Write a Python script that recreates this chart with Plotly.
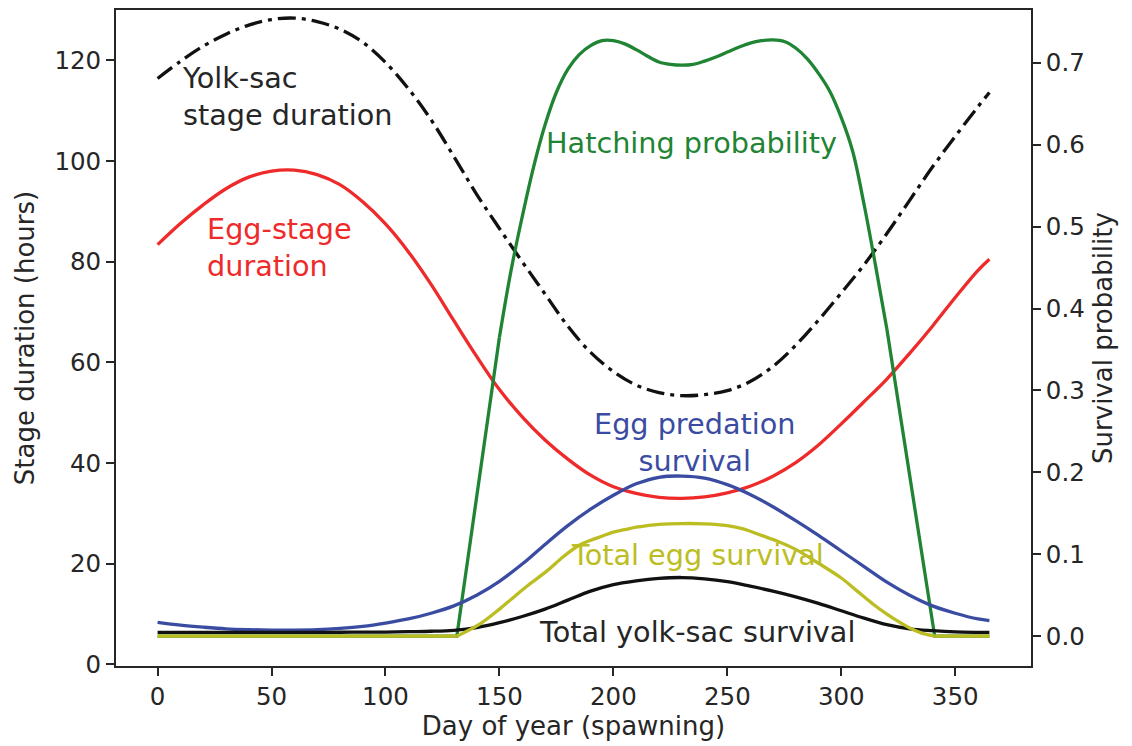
import plotly.graph_objects as go

# ---------------- data ----------------
grid_days = [0, 10, 20, 30, 40, 50, 60, 70, 80, 90, 100, 110, 120, 130, 140, 150, 160, 170,
             180, 190, 200, 210, 220, 230, 240, 250, 260, 270, 280, 290, 300, 310, 320, 330,
             340, 350, 360, 365]

# Yolk-sac stage duration (hours, left axis)
yolk_dur = [116.4, 119.8, 122.8, 125.2, 127.0, 128.1, 128.4, 127.7, 126.2, 123.6, 119.6, 114.4,
            108.2, 100.9, 93.4, 86.6, 80.0, 73.6, 67.2, 62.0, 58.2, 55.5, 54.0, 53.4, 53.6, 54.4,
            56.2, 59.2, 63.4, 68.4, 73.8, 79.4, 85.6, 92.2, 98.8, 104.9, 110.8, 113.6]

# Egg-stage duration (hours, left axis)
egg_dur = [83.4, 87.6, 91.3, 94.5, 96.8, 98.0, 98.2, 97.3, 95.3, 91.9, 87.5, 82.0, 75.5, 68.3,
           61.2, 54.6, 49.2, 44.6, 40.8, 37.6, 35.3, 34.0, 33.2, 33.0, 33.3, 34.1, 35.4, 37.4,
           40.1, 43.6, 47.8, 52.2, 56.7, 61.8, 67.2, 72.9, 78.3, 80.5]

# Egg predation survival (right axis)
pred_p = [0.0168, 0.0135, 0.011, 0.009, 0.008, 0.0075, 0.0075, 0.008, 0.0095, 0.012, 0.016,
          0.021, 0.028, 0.037, 0.050, 0.067, 0.088, 0.112, 0.135, 0.155, 0.172, 0.186, 0.194,
          0.1955, 0.193, 0.185, 0.173, 0.158, 0.141, 0.123, 0.104, 0.085, 0.066, 0.050, 0.037,
          0.028, 0.021, 0.019]

# Total yolk-sac survival (right axis)
ys_p = [0.0046, 0.0046, 0.0046, 0.0046, 0.0046, 0.0046, 0.0047, 0.0047, 0.0048, 0.0049, 0.0050,
        0.0055, 0.0060, 0.0072, 0.0105, 0.0165, 0.024, 0.033, 0.044, 0.055, 0.063, 0.0675,
        0.0705, 0.0716, 0.070, 0.0665, 0.061, 0.055, 0.048, 0.040, 0.031, 0.022, 0.014, 0.009,
        0.0067, 0.0052, 0.0047, 0.0046]

# Hatching probability (right axis)
hatch_days = [0, 131.3, 150, 155, 160, 165, 170, 175, 180, 185, 190, 195, 200, 205, 210, 215,
              220, 225, 230, 235, 240, 245, 250, 255, 260, 265, 270, 275, 280, 285, 290, 295,
              300, 305, 310, 315, 320, 341, 365]
hatch_p = [0.0, 0.0, 0.365, 0.445, 0.512, 0.573, 0.624, 0.664, 0.692, 0.710, 0.721, 0.727,
           0.727, 0.723, 0.716, 0.708, 0.701, 0.698, 0.697, 0.698, 0.702, 0.707, 0.713, 0.719,
           0.724, 0.727, 0.728, 0.726, 0.718, 0.705, 0.687, 0.665, 0.633, 0.592, 0.527, 0.453,
           0.375, 0.0, 0.0]

# Total egg survival (right axis)
egg_surv_days = [0, 131.3, 141.5, 150, 156, 163, 171, 178, 185, 190, 195, 200, 205, 210, 215,
                 220, 230, 240, 250, 257, 265, 272, 280, 290, 300, 307, 314, 320, 325, 330, 335,
                 341, 365]
egg_surv_p = [0.0, 0.0, 0.015, 0.033, 0.047, 0.063, 0.080, 0.097, 0.111, 0.117, 0.122, 0.127,
              0.130, 0.133, 0.135, 0.1365, 0.1375, 0.1372, 0.135, 0.131, 0.123, 0.116, 0.106,
              0.089, 0.071, 0.055, 0.039, 0.027, 0.018, 0.010, 0.004, 0.0, 0.0]

x_ticks = [0, 50, 100, 150, 200, 250, 300, 350]
left_ticks = [0, 20, 40, 60, 80, 100, 120]
right_ticks = [0.0, 0.1, 0.2, 0.3, 0.4, 0.5, 0.6, 0.7]
right_tick_labels = ["0.0", "0.1", "0.2", "0.3", "0.4", "0.5", "0.6", "0.7"]

# ---------------- styles ----------------
FONT = "DejaVu Sans"
INK = "#262626"
RED = "#ee2a2a"
GREEN = "#1f8433"
BLUE = "#3a4ca2"
OLIVE = "#bcbd22"
LW = 3.3

fig = go.Figure()


def add_line(xs, ys, color, axis, shape="spline", dash=None):
    fig.add_trace(go.Scatter(x=xs, y=ys, mode="lines", yaxis=axis, hoverinfo="skip",
                             line=dict(color=color, width=LW, dash=dash, shape=shape,
                                       smoothing=1.0 if shape == "spline" else None)))


add_line(grid_days, yolk_dur, "#111111", "y", dash="18px,6px,4px,6px")
add_line(grid_days, egg_dur, RED, "y")

# hatching: straight ramps at the ends, smooth top
i0 = hatch_days.index(150)
i1 = hatch_days.index(320)
add_line(hatch_days[:i0 + 1], hatch_p[:i0 + 1], GREEN, "y2", shape="linear")
add_line(hatch_days[i0:i1 + 1], hatch_p[i0:i1 + 1], GREEN, "y2")
add_line(hatch_days[i1:], hatch_p[i1:], GREEN, "y2", shape="linear")

add_line(grid_days, pred_p, BLUE, "y2")
add_line(grid_days, ys_p, "#111111", "y2")

# total egg survival: flat at zero outside the hatching window
j0 = egg_surv_days.index(131.3)
j1 = egg_surv_days.index(341)
add_line(egg_surv_days[:j0 + 1], egg_surv_p[:j0 + 1], OLIVE, "y2", shape="linear")
add_line(egg_surv_days[j0:j1 + 1], egg_surv_p[j0:j1 + 1], OLIVE, "y2")
add_line(egg_surv_days[j1:], egg_surv_p[j1:], OLIVE, "y2", shape="linear")

ann_font = dict(family=FONT, size=28.7)
annotations = [
    dict(x=9.8, y=112.9, text="Yolk-sac<br>stage duration", xanchor="left", align="left",
         font=dict(ann_font, color=INK)),
    dict(x=20.8, y=82.9, text="Egg-stage<br>duration", xanchor="left", align="left",
         font=dict(ann_font, color=RED)),
    dict(x=234.3, y=103.5, text="Hatching probability", xanchor="center",
         font=dict(ann_font, color=GREEN)),
    dict(x=235.8, y=44.0, text="Egg predation<br>survival", xanchor="center", align="center",
         font=dict(ann_font, color=BLUE)),
    dict(x=237.1, y=21.7, text="Total egg survival", xanchor="center",
         font=dict(ann_font, color=OLIVE)),
    dict(x=236.7, y=6.5, text="Total yolk-sac survival", xanchor="center",
         font=dict(ann_font, color=INK)),
]
for a in annotations:
    a.update(xref="x", yref="y", yanchor="middle", showarrow=False)

tick_font = dict(family=FONT, size=24.5, color=INK)
title_font = dict(family=FONT, size=26, color=INK)

fig.update_layout(
    width=1132, height=746,
    margin=dict(l=116, r=101, t=8, b=80),
    paper_bgcolor="white", plot_bgcolor="white",
    showlegend=False,
    annotations=annotations,
    xaxis=dict(range=[-18.25, 383.25], tickvals=x_ticks, ticks="outside", ticklen=8,
               tickwidth=1.8, tickcolor=INK, showline=True, linecolor=INK, linewidth=1.8,
               mirror=True, showgrid=False, zeroline=False, tickfont=tick_font,
               title=dict(text="Day of year (spawning)", font=title_font, standoff=6)),
    yaxis=dict(range=[-0.3, 130], tickvals=left_ticks, ticks="outside", ticklen=8,
               tickwidth=1.8, tickcolor=INK, showline=True, linecolor=INK, linewidth=1.8,
               showgrid=False, zeroline=False, tickfont=tick_font,
               title=dict(text="Stage duration (hours)", font=title_font, standoff=12)),
    yaxis2=dict(range=[-0.0364, 0.7644], tickvals=right_ticks, ticktext=right_tick_labels,
                overlaying="y", side="right", ticks="outside", ticklen=8,
                tickwidth=1.8, tickcolor=INK, showline=True, linecolor=INK, linewidth=1.8,
                showgrid=False, zeroline=False, tickfont=tick_font,
                title=dict(text="Survival probability", font=title_font, standoff=10)),
)

fig.write_html("out.html")
